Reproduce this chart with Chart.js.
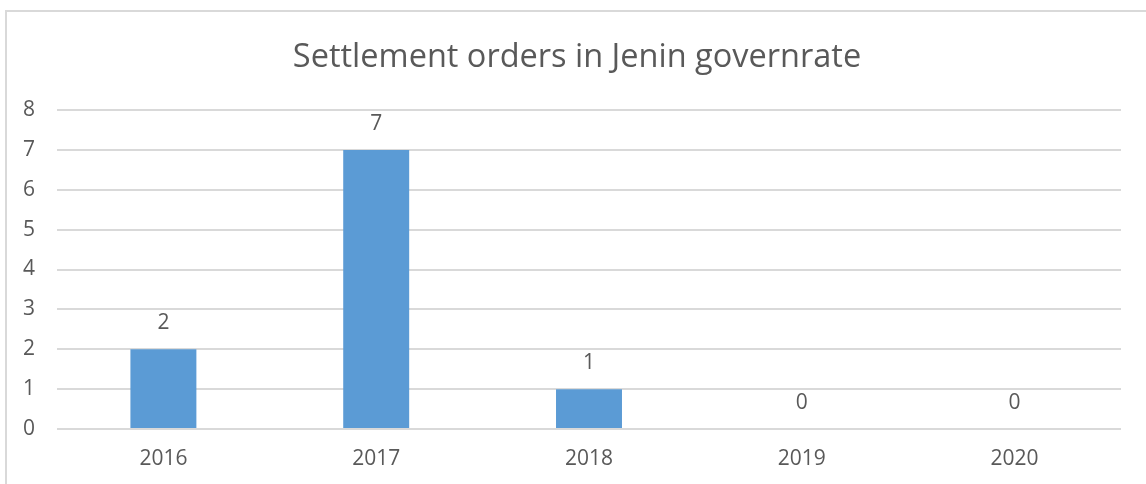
<!DOCTYPE html>
<html>
<head>
<meta charset="utf-8">
<script src="https://cdn.jsdelivr.net/npm/chart.js@4"></script>
<style>
  html, body { margin: 0; padding: 0; background: #fff; }
  .frame {
    position: absolute; left: 5px; top: 10px; width: 1141px; height: 474px;
    border-left: 2px solid #d9d9d9; border-top: 2px solid #d9d9d9;
  }
  #wrap { position: absolute; left: 0; top: 0; width: 1146px; height: 484px; }
</style>
</head>
<body>
<div class="frame"></div>
<div id="wrap"><canvas id="myChart"></canvas></div>
<script>
const years = ["2016", "2017", "2018", "2019", "2020"];
const orders = [2, 7, 1, 0, 0];
const yTicks = [0, 1, 2, 3, 4, 5, 6, 7, 8];

const textColor = '#595959';
const fontName = '"Open Sans", "Noto Sans", sans-serif';

// numbers above each bar
const barLabels = {
  id: 'barLabels',
  afterDatasetsDraw(chart) {
    const c = chart.ctx;
    const meta = chart.getDatasetMeta(0);
    c.save();
    c.fillStyle = textColor;
    c.font = '21px ' + fontName;
    c.textAlign = 'center';
    c.textBaseline = 'middle';
    meta.data.forEach(function(bar, i) {
      c.fillText(String(orders[i]), bar.x, bar.y - 26);
    });
    c.restore();
  }
};

// title sits a bit right of the canvas centre, like the original
const titleShift = {
  id: 'titleShift',
  afterLayout(chart) {
    if (chart.titleBlock) chart.titleBlock.left = 33;
  }
};

const ctx = document.getElementById('myChart');

const myChart = new Chart(ctx, {
  type: 'bar',
  data: {
    labels: years,
    datasets: [{
      data: orders,
      backgroundColor: '#5B9BD5',
      borderWidth: 0,
      categoryPercentage: 1,
      barPercentage: 0.31
    }]
  },
  options: {
    responsive: true,
    maintainAspectRatio: false,
    animation: false,
    layout: { padding: { left: 0, right: 25, top: 0, bottom: 0 } },
    plugins: {
      legend: { display: false },
      tooltip: { enabled: false },
      title: {
        display: true,
        text: 'Settlement orders in Jenin governrate',
        color: textColor,
        font: { family: fontName, size: 32.5, weight: 'normal' },
        padding: { top: 38, bottom: 33 }
      }
    },
    scales: {
      x: {
        grid: { display: false },
        border: { display: false },
        ticks: { color: textColor, font: { family: fontName, size: 21 }, padding: 9 },
        afterFit(scale) { scale.height = 55; }
      },
      y: {
        min: 0,
        max: 8,
        afterBuildTicks(scale) { scale.ticks = yTicks.map(v => ({ value: v })); },
        grid: { color: '#d9d9d9', lineWidth: 2, drawTicks: false },
        border: { display: false },
        ticks: { color: textColor, font: { family: fontName, size: 21 }, padding: 22 },
        afterFit(scale) { scale.width = 57; }
      }
    }
  },
  plugins: [barLabels, titleShift]
});
</script>
</body>
</html>
